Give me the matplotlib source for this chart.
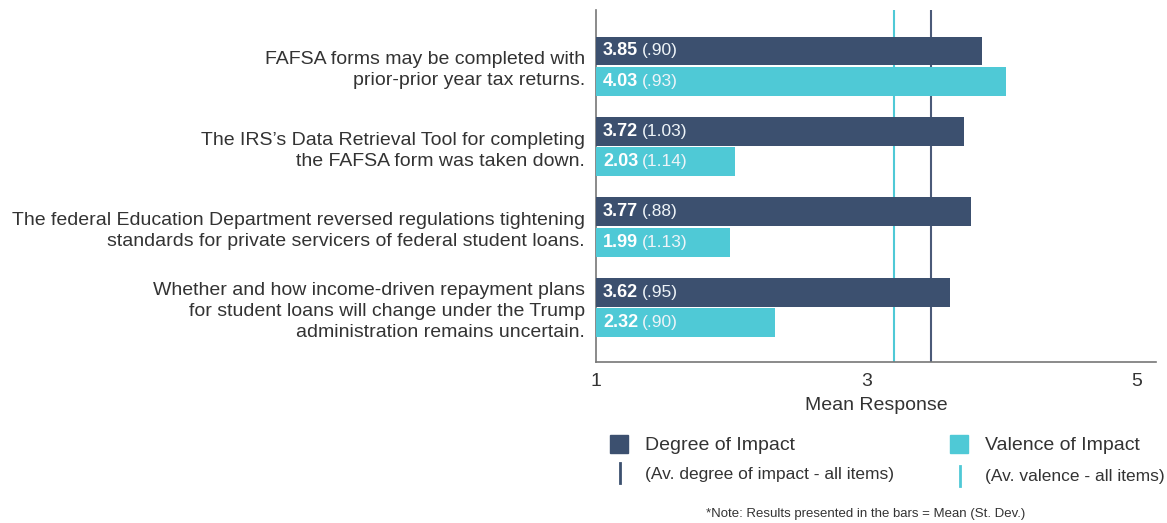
import matplotlib
matplotlib.use("Agg")
import matplotlib.pyplot as plt
from matplotlib.patches import Rectangle
from matplotlib.lines import Line2D
import numpy as np

plt.rcParams["font.family"] = ["Liberation Sans", "DejaVu Sans"]

items = [
    "FAFSA forms may be completed with\nprior-prior year tax returns.",
    "The IRS\u2019s Data Retrieval Tool for completing\nthe FAFSA form was taken down.",
    "The federal Education Department reversed regulations tightening\nstandards for private servicers of federal student loans.",
    "Whether and how income-driven repayment plans\nfor student loans will change under the Trump\nadministration remains uncertain.",
]
degree_mean = [3.85, 3.72, 3.77, 3.62]
degree_sd = ["(.90)", "(1.03)", "(.88)", "(.95)"]
valence_mean = [4.03, 2.03, 1.99, 2.32]
valence_sd = ["(.93)", "(1.14)", "(1.13)", "(.90)"]
avg_degree = 3.48
avg_valence = 3.20

DARK = "#3c506f"
CYAN = "#4fc9d6"
TEXT = "#333333"

fig = plt.figure(figsize=(11.67, 5.23), dpi=100)
ax = fig.add_axes([596 / 1167, 1 - 362 / 523, 560 / 1167, 352 / 523])

y = np.arange(len(items))
h = 0.36
ax.barh(y - h / 2 - 0.01, [m - 1 for m in degree_mean], left=1, height=h, color=DARK, zorder=3)
ax.barh(y + h / 2 + 0.01, [m - 1 for m in valence_mean], left=1, height=h, color=CYAN, zorder=3)

ax.axvline(avg_valence, color=CYAN, lw=1.5, zorder=0.5)
ax.axvline(avg_degree, color="#4b5a78", lw=1.5, zorder=0.5)

for yi, m, s, off in [(yi, m, s, -h / 2 - 0.01) for yi, m, s in zip(y, degree_mean, degree_sd)] + \
        [(yi, m, s, h / 2 + 0.01) for yi, m, s in zip(y, valence_mean, valence_sd)]:
    t = ax.annotate(f"{m:.2f}", xy=(1, yi + off), xytext=(5, 0), textcoords="offset points",
                    va="center", ha="left", color="white", fontsize=13, fontweight="bold", zorder=4)
    ax.annotate(s, xy=(1, 0.5), xycoords=t, xytext=(3, 0), textcoords="offset points",
                va="center", ha="left", color="#eef4f8", fontsize=12.5, zorder=4)

ax.set_xlim(1, 5.14)
ax.set_ylim(3 + 0.68, -0.7)
ax.set_xticks([1, 3, 5])
ax.set_xticklabels(["1", "3", "5"])
ax.set_yticks(y)
ax.set_yticklabels(items, fontsize=14, color=TEXT, linespacing=1.3)
ax.tick_params(axis="y", length=0, pad=8, colors=TEXT)
ax.tick_params(axis="x", length=0, labelsize=14, pad=8, colors=TEXT)
ax.set_xlabel("Mean Response", fontsize=14, color=TEXT, labelpad=5)
for side in ["top", "right"]:
    ax.spines[side].set_visible(False)
for side in ["left", "bottom"]:
    ax.spines[side].set_color("#777777")
    ax.spines[side].set_linewidth(1.2)

# legend drawn in figure coordinates
W, H = 1167, 523
def fx(px): return px / W
def fy(py): return 1 - py / H

fig.patches.append(Rectangle((fx(610), fy(453)), 18 / W, 18 / H, transform=fig.transFigure, color=DARK))
fig.patches.append(Rectangle((fx(950), fy(453)), 18 / W, 18 / H, transform=fig.transFigure, color=CYAN))
fig.lines.append(Line2D([fx(620), fx(620)], [fy(463), fy(483)], transform=fig.transFigure, color=DARK, lw=2))
fig.lines.append(Line2D([fx(960), fx(960)], [fy(466), fy(486)], transform=fig.transFigure, color=CYAN, lw=2))
fig.text(fx(645), fy(446), "Degree of Impact", fontsize=14, color=TEXT, va="center")
fig.text(fx(645), fy(475), "(Av. degree of impact - all items)", fontsize=12.5, color=TEXT, va="center")
fig.text(fx(985), fy(446), "Valence of Impact", fontsize=14, color=TEXT, va="center")
fig.text(fx(985), fy(477), "(Av. valence - all items)", fontsize=12.5, color=TEXT, va="center")
fig.text(fx(866), fy(514), "*Note: Results presented in the bars = Mean (St. Dev.)", fontsize=9.5,
         color=TEXT, va="center", ha="center")

fig.savefig("out.png", dpi=100)
